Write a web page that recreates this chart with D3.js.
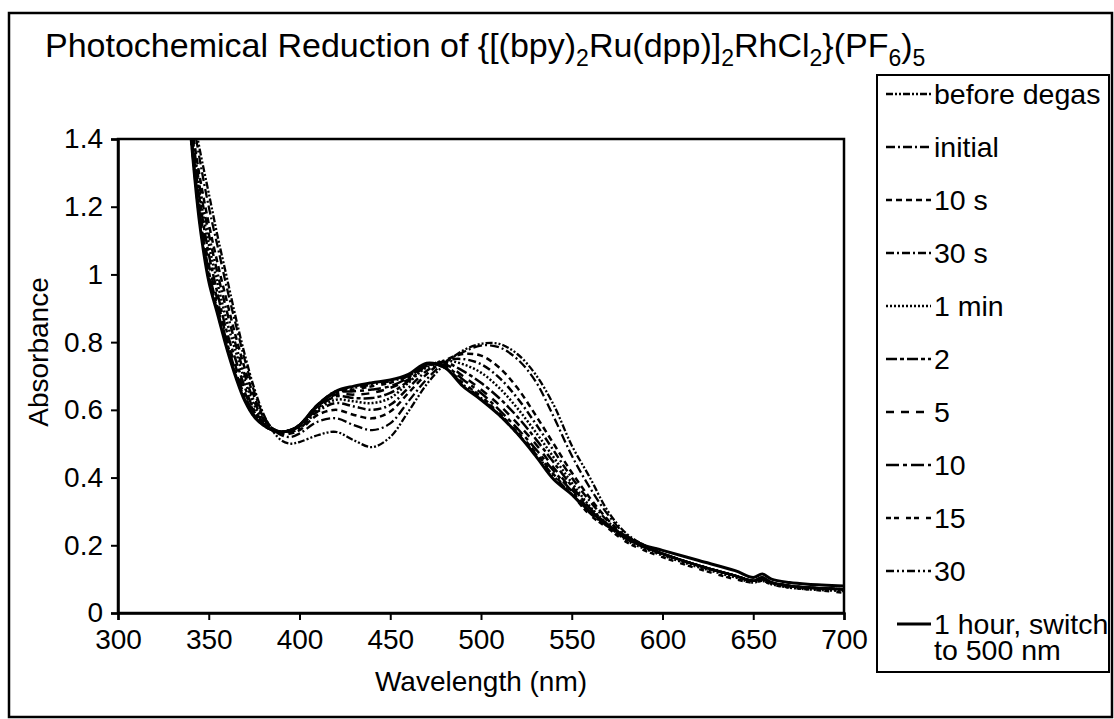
<!DOCTYPE html>
<html><head><meta charset="utf-8">
<script src="https://cdn.jsdelivr.net/npm/d3@7"></script>
<style>body{margin:0;background:#fff} text{font-family:"Liberation Sans",Arial,sans-serif;fill:#000}</style>
</head><body><svg id="c" width="1114" height="719"></svg>
<script>
const wavelengths = [340,345,350,355,360,365,370,375,380,385,390,395,400,410,420,430,440,450,460,470,480,490,500,510,520,530,540,550,560,570,580,590,600,620,640,650,655,660,670,680,700];
const seriesNames = ["before degas","initial","10 s","30 s","1 min","2","5","10","15","30","1 hour, switch|to 500 nm"];
const beforeDegas = [1.52,1.37,1.24,1.11,0.99,0.87,0.76,0.665,0.59,0.54,0.51,0.50,0.505,0.525,0.535,0.51,0.49,0.52,0.595,0.675,0.735,0.775,0.795,0.795,0.765,0.705,0.615,0.495,0.40,0.30,0.235,0.20,0.175,0.14,0.11,0.095,0.10,0.09,0.08,0.075,0.07];
const initial = [1.50,1.34,1.20,1.08,0.96,0.85,0.745,0.655,0.585,0.545,0.525,0.52,0.53,0.565,0.575,0.555,0.54,0.56,0.625,0.69,0.74,0.77,0.79,0.785,0.75,0.685,0.58,0.465,0.37,0.29,0.23,0.20,0.175,0.14,0.11,0.095,0.10,0.09,0.08,0.075,0.07];
const s10 = [1.46,1.29,1.15,1.03,0.92,0.815,0.72,0.64,0.58,0.545,0.53,0.53,0.54,0.585,0.60,0.585,0.575,0.595,0.65,0.705,0.745,0.765,0.76,0.725,0.665,0.585,0.50,0.415,0.34,0.275,0.225,0.195,0.175,0.14,0.11,0.095,0.10,0.09,0.08,0.075,0.07];
const s30 = [1.45,1.26,1.12,1.0,0.89,0.79,0.70,0.625,0.575,0.545,0.535,0.535,0.545,0.595,0.62,0.61,0.60,0.615,0.665,0.715,0.745,0.75,0.735,0.695,0.635,0.56,0.48,0.40,0.33,0.27,0.22,0.195,0.175,0.14,0.11,0.095,0.10,0.09,0.08,0.075,0.07];
const m1 = [1.44,1.24,1.09,0.97,0.86,0.77,0.685,0.615,0.57,0.545,0.535,0.54,0.55,0.60,0.63,0.625,0.62,0.635,0.68,0.725,0.745,0.735,0.71,0.665,0.605,0.535,0.46,0.385,0.315,0.26,0.215,0.19,0.17,0.135,0.105,0.09,0.095,0.085,0.075,0.07,0.065];
const m2 = [1.43,1.22,1.06,0.94,0.83,0.745,0.665,0.60,0.565,0.545,0.535,0.54,0.55,0.605,0.64,0.635,0.635,0.65,0.685,0.73,0.74,0.715,0.68,0.635,0.58,0.515,0.445,0.375,0.31,0.26,0.22,0.195,0.175,0.14,0.11,0.095,0.105,0.09,0.08,0.075,0.07];
const m5 = [1.43,1.20,1.03,0.92,0.81,0.725,0.65,0.595,0.56,0.54,0.535,0.54,0.555,0.61,0.645,0.645,0.65,0.665,0.69,0.73,0.735,0.70,0.66,0.615,0.56,0.50,0.43,0.365,0.305,0.26,0.22,0.195,0.175,0.14,0.11,0.095,0.105,0.09,0.08,0.075,0.07];
const m10 = [1.42,1.18,1.01,0.90,0.80,0.71,0.64,0.59,0.56,0.54,0.535,0.54,0.555,0.61,0.65,0.655,0.66,0.67,0.695,0.735,0.73,0.69,0.65,0.60,0.545,0.485,0.42,0.36,0.30,0.255,0.22,0.195,0.175,0.14,0.11,0.095,0.105,0.09,0.08,0.075,0.07];
const m15 = [1.42,1.17,1.00,0.89,0.79,0.70,0.63,0.585,0.555,0.54,0.535,0.54,0.555,0.615,0.65,0.66,0.67,0.68,0.70,0.735,0.725,0.68,0.64,0.59,0.535,0.475,0.41,0.35,0.29,0.25,0.21,0.185,0.165,0.13,0.10,0.09,0.095,0.085,0.075,0.07,0.06];
const m30 = [1.42,1.16,0.99,0.885,0.785,0.70,0.63,0.58,0.555,0.54,0.535,0.54,0.555,0.615,0.655,0.665,0.675,0.685,0.70,0.735,0.725,0.675,0.635,0.585,0.53,0.47,0.405,0.35,0.295,0.255,0.22,0.195,0.175,0.14,0.11,0.095,0.105,0.09,0.08,0.075,0.07];
const h1 = [1.42,1.15,0.98,0.88,0.78,0.695,0.625,0.58,0.555,0.54,0.535,0.54,0.555,0.615,0.655,0.67,0.68,0.688,0.705,0.738,0.725,0.67,0.63,0.585,0.53,0.465,0.395,0.35,0.30,0.26,0.225,0.20,0.185,0.155,0.125,0.105,0.115,0.10,0.09,0.085,0.08];
const xTicks = [300,350,400,450,500,550,600,650,700];
const yTicks = [0,0.2,0.4,0.6,0.8,1,1.2,1.4];

const allSeries = [beforeDegas,initial,s10,s30,m1,m2,m5,m10,m15,m30,h1];
const dashes = ["7,2,2,2,2,2","9,3,2,3","6,4","8,3,2,3","2,2","11,3,4,3","8,7","13,4,4,4","5,3,5,7","8,3,2,3,2,3",null];
const widths = [2.3,2.3,2.5,2.5,2.5,2.5,2.5,2.5,2.5,2.5,3];

const svg = d3.select("#c");
const x = d3.scaleLinear().domain([300,700]).range([118,844]);
const y = d3.scaleLinear().domain([0,1.4]).range([613,139]);

// outer frame
svg.append("rect").attr("x",9).attr("y",13).attr("width",1103).attr("height",704)
  .attr("fill","none").attr("stroke","#000").attr("stroke-width",2.5);

// title
const t = svg.append("text").attr("x",45).attr("y",57).attr("font-size",34);
const parts = [["Photochemical Reduction of {[(bpy)",0],["2",1],["Ru(dpp)]",0],["2",1],["RhCl",0],["2",1],["}(PF",0],["6",1],[")",0],["5",1]];
let prevSub = false;
parts.forEach(([s,sub])=>{
  const ts = t.append("tspan").text(s);
  if(sub){ts.attr("font-size",23).attr("dy", prevSub?0:9);}
  else {ts.attr("dy", prevSub?-9:0);}
  prevSub = !!sub;
});

// clip
svg.append("clipPath").attr("id","clip").append("rect")
  .attr("x",118).attr("y",139).attr("width",726).attr("height",474);

// axes
const xa = svg.append("g").attr("transform","translate(0,613)")
  .call(d3.axisBottom(x).tickValues(xTicks).tickSize(7).tickPadding(9).tickFormat(d3.format("d")));
const ya = svg.append("g").attr("transform","translate(118,0)")
  .call(d3.axisLeft(y).tickValues(yTicks).tickSize(7).tickPadding(8).tickFormat(d=>String(d)));
[xa,ya].forEach(g=>{
  g.selectAll("text").attr("font-size",28).attr("font-family","Liberation Sans, Arial, sans-serif");
  g.selectAll("line").attr("stroke-width",2);
  g.select(".domain").attr("stroke-width",2.5);
});
// plot frame
svg.append("rect").attr("x",118).attr("y",139).attr("width",726).attr("height",474)
  .attr("fill","none").attr("stroke","#000").attr("stroke-width",2.5);

// lines
const line = d3.line().x((d,i)=>x(wavelengths[i])).y(d=>y(d)).curve(d3.curveCatmullRom.alpha(0.5));
const g = svg.append("g").attr("clip-path","url(#clip)");
allSeries.forEach((s,i)=>{
  g.append("path").attr("d",line(s)).attr("fill","none").attr("stroke","#000")
   .attr("stroke-width",widths[i]).attr("stroke-dasharray",dashes[i]);
});

// axis titles
svg.append("text").attr("x",481).attr("y",691).attr("text-anchor","middle").attr("font-size",28).text("Wavelength (nm)");
svg.append("text").attr("transform","translate(48,352) rotate(-90)").attr("text-anchor","middle").attr("font-size",28).text("Absorbance");

// legend
svg.append("rect").attr("x",877).attr("y",75).attr("width",232).attr("height",597)
  .attr("fill","#fff").attr("stroke","#000").attr("stroke-width",2);
seriesNames.forEach((n,i)=>{
  const yy = 94 + i*53;
  svg.append("line").attr("x1",i===10?897:886).attr("x2",931).attr("y1",yy).attr("y2",yy)
    .attr("stroke","#000").attr("stroke-width",widths[i]).attr("stroke-dasharray",dashes[i]);
  const txt = svg.append("text").attr("x",934).attr("y",yy+10).attr("font-size",28.5);
  n.split("|").forEach((l,j)=>{
    txt.append("tspan").attr("x",934).attr("dy", j===0?0:26).text(l);
  });
});
</script></body></html>
